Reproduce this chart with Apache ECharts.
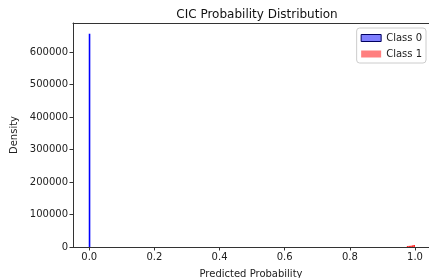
<!DOCTYPE html>
<html><head><meta charset="utf-8">
<script src="https://cdn.jsdelivr.net/npm/echarts@6/dist/echarts.min.js"></script>
<style>html,body{margin:0;padding:0;background:#fff}#c{width:429px;height:278px}</style>
</head><body><div id="c"></div>
<script>
// Histogram bins (left edge, right edge) and densities
const class0Edges = [0.0, 0.0015];
const class0Density = [656000];
const class1Edges = [0.975, 0.98, 0.985, 0.99, 0.995, 1.0];
const class1Density = [3000, 3500, 4000, 5000, 6000];
const xTicks = [0, 0.2, 0.4, 0.6, 0.8, 1.0];
const yTicks = [0, 100000, 200000, 300000, 400000, 500000, 600000];

function binsOf(edges, dens) {
  const out = [];
  for (let i = 0; i < dens.length; i++) out.push([edges[i], edges[i + 1], dens[i]]);
  return out;
}
function render(fill) {
  return function (params, api) {
    const p0 = api.coord([api.value(0), api.value(2)]);
    const p1 = api.coord([api.value(1), 0]);
    let x = p0[0], w = p1[0] - p0[0];
    if (w < 1.6) { x = (p0[0] + p1[0]) / 2 - 0.8; w = 1.6; }
    return { type: 'rect', shape: { x: x, y: p0[1], width: w, height: p1[1] - p0[1] },
      style: { fill: fill } };
  };
}
const font = 'DejaVu Sans';
const txt = '#222';
const chart = echarts.init(document.getElementById('c'), null, { renderer: 'canvas' });
chart.setOption({
  animation: false,
  textStyle: { fontFamily: font },
  title: { text: 'CIC Probability Distribution', left: 252, textAlign: 'center', top: 4,
    textStyle: { fontFamily: font, fontSize: 12, fontWeight: 'normal', color: '#111' } },
  grid: { left: 73, right: 0, top: 23, bottom: 31, containLabel: false, outerBoundsMode: 'none' },
  legend: {
    right: 3, top: 28, orient: 'vertical', itemGap: 6, itemWidth: 20, itemHeight: 7,
    borderColor: '#ccc', borderWidth: 1, borderRadius: 3, padding: [5, 4, 4, 4], backgroundColor: '#fff',
    textStyle: { fontFamily: font, fontSize: 10, color: txt },
    data: [
      { name: 'Class 0', icon: 'rect', itemStyle: { color: 'rgba(0,0,255,0.5)', borderColor: '#000060', borderWidth: 1 } },
      { name: 'Class 1', icon: 'rect', itemStyle: { color: 'rgba(255,0,0,0.5)', borderWidth: 0 } }
    ]
  },
  xAxis: [{
    type: 'value', min: -0.05, max: 1.043,
    name: 'Predicted Probability', nameLocation: 'middle', nameGap: 22,
    nameTextStyle: { fontFamily: font, fontSize: 10, color: txt },
    axisLine: { show: true, onZero: false, lineStyle: { color: '#333', width: 1 } },
    splitLine: { show: false },
    axisTick: { show: true, length: 3.5, customValues: xTicks, lineStyle: { color: '#333' } },
    axisLabel: { customValues: xTicks, fontSize: 10, color: txt, margin: 5,
      formatter: v => v.toFixed(1) }
  }, {
    type: 'value', position: 'top', min: -0.05, max: 1.043,
    axisLine: { show: true, onZero: false, lineStyle: { color: '#333', width: 1 } },
    axisTick: { show: false }, axisLabel: { show: false }, splitLine: { show: false }
  }],
  yAxis: {
    type: 'value', min: 0, max: 689000,
    name: 'Density', nameLocation: 'middle', nameGap: 47,
    nameTextStyle: { fontFamily: font, fontSize: 10, color: txt },
    axisLine: { show: true, onZero: false, lineStyle: { color: '#333', width: 1 } },
    splitLine: { show: false },
    axisTick: { show: true, length: 3.5, customValues: yTicks, lineStyle: { color: '#333' } },
    axisLabel: { customValues: yTicks, fontSize: 10, color: txt, margin: 5,
      formatter: v => String(v) }
  },
  series: [
    { name: 'Class 0', type: 'custom', renderItem: render('#0000ff'),
      itemStyle: { color: 'rgba(0,0,255,0.5)' },
      encode: { x: [0, 1], y: 2 }, data: binsOf(class0Edges, class0Density) },
    { name: 'Class 1', type: 'custom', renderItem: render('rgba(255,0,0,0.85)'),
      itemStyle: { color: 'rgba(255,0,0,0.5)' },
      encode: { x: [0, 1], y: 2 }, data: binsOf(class1Edges, class1Density) }
  ]
});
</script></body></html>
